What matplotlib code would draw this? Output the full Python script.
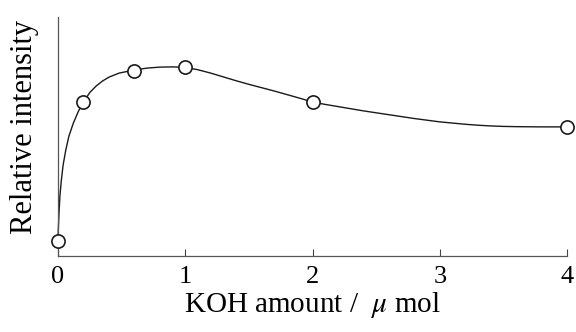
import numpy as np
import matplotlib.pyplot as plt

# measured points (relative intensity, arbitrary units)
koh = [0, 0.2, 0.6, 1.0, 2.0, 4.0]
intensity = [0.063, 0.644, 0.774, 0.79, 0.644, 0.54]

# smooth guide line
curve_x = [0, 0.003, 0.008, 0.015, 0.025, 0.04, 0.06, 0.085, 0.12, 0.16, 0.2,
           0.25, 0.3, 0.35, 0.4, 0.48, 0.6, 0.7, 0.8, 0.9, 1.0,
           1.1, 1.2, 1.3, 1.4, 1.5, 1.6, 1.7, 1.8, 1.9, 2.0,
           2.1, 2.2, 2.3, 2.4, 2.5, 2.6, 2.7, 2.8, 2.9, 3.0,
           3.1, 3.2, 3.3, 3.4, 3.5, 3.6, 3.8, 4.0]
curve_y = [0.063, 0.12, 0.18, 0.25, 0.31, 0.38, 0.44, 0.5, 0.555, 0.605, 0.644,
           0.684, 0.711, 0.732, 0.748, 0.765, 0.778, 0.786, 0.79, 0.791, 0.789,
           0.779, 0.765, 0.749, 0.733, 0.718, 0.704, 0.69, 0.675, 0.66, 0.644,
           0.634, 0.625, 0.616, 0.607, 0.599, 0.591, 0.583, 0.575, 0.568, 0.561,
           0.556, 0.551, 0.547, 0.544, 0.542, 0.541, 0.540, 0.540]

plt.rcParams['font.family'] = ['Liberation Serif', 'DejaVu Serif']
plt.rcParams['mathtext.fontset'] = 'stix'

fig = plt.figure(figsize=(5.76, 3.32), dpi=100)
ax = fig.add_axes([0.1007, 0.229, 0.8837, 0.72])

ax.plot(curve_x, curve_y, color='#1a1a1a', lw=1.0, clip_on=False)
ax.plot(koh, intensity, 'o', ms=9.5, mfc='white', mec='#1a1a1a', mew=1.2,
        clip_on=False, zorder=3)

ax.set_xlim(0, 4)
ax.set_ylim(0, 1)
ax.set_xticks([0, 1, 2, 3, 4])
ax.set_yticks([])
ax.tick_params(axis='x', direction='in', length=5, width=0.8, color='#444444',
               labelsize=19, pad=7)
for s in ['top', 'right']:
    ax.spines[s].set_visible(False)
for s in ['left', 'bottom']:
    ax.spines[s].set_color('#555555')
    ax.spines[s].set_linewidth(0.9)

ax.set_xlabel(r'KOH amount /  $\mu$ mol', fontsize=21, labelpad=2)
ax.set_ylabel('Relative intensity', fontsize=22)
ax.yaxis.set_label_coords(-0.038, 0.54)

fig.savefig('out.png', dpi=100)
